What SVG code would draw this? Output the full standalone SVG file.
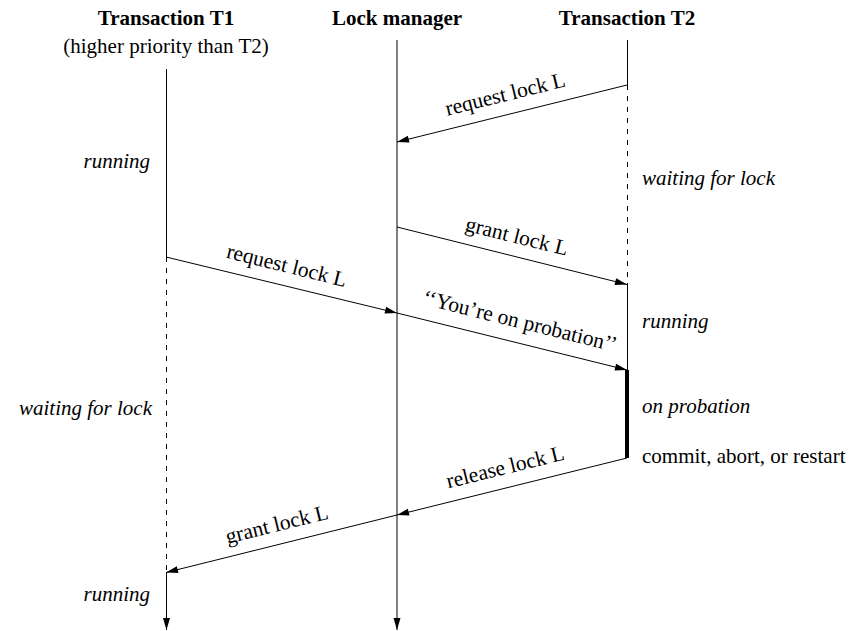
<svg xmlns="http://www.w3.org/2000/svg" width="854" height="631" viewBox="0 0 854 631">
  <style>
    text { font-family: "Liberation Serif", "Times New Roman", serif; font-size: 21px; fill: #000; }
    .head { font-weight: bold; text-anchor: middle; }
    .state { font-style: italic; }
    .lbl { font-size: 21.5px; text-anchor: middle; }
    .life { stroke: #000; stroke-width: 1; fill: none; }
    .dash { stroke-dasharray: 5 6; }
    .msg { stroke: #000; stroke-width: 1; fill: none; marker-end: url(#head); }
  </style>
  <defs>
    <marker id="head" markerUnits="userSpaceOnUse" markerWidth="12" markerHeight="7" refX="12" refY="3.5" orient="auto" overflow="visible">
      <path d="M0,0 L12,3.5 L0,7 Z" fill="#000"/>
    </marker>
  </defs>

  <rect width="854" height="631" fill="#fff"/>

  <!-- Transaction T1 -->
  <g id="t1">
    <text class="head" x="166" y="25">Transaction T1</text>
    <text x="166" y="53" text-anchor="middle">(higher priority than T2)</text>
    <line class="life" x1="166.5" y1="69" x2="166.5" y2="257"/>
    <line class="life dash" x1="166.5" y1="257" x2="166.5" y2="572"/>
    <line class="life" x1="166.5" y1="572" x2="166.5" y2="630" marker-end="url(#head)"/>
    <text class="state" x="150" y="168" text-anchor="end">running</text>
    <text class="state" x="152" y="415" text-anchor="end">waiting for lock</text>
    <text class="state" x="150" y="601" text-anchor="end">running</text>
  </g>

  <!-- Lock manager -->
  <g id="lock-manager">
    <text class="head" x="397" y="25">Lock manager</text>
    <line class="life" x1="397" y1="40" x2="397" y2="630" marker-end="url(#head)"/>
  </g>

  <!-- Transaction T2 -->
  <g id="t2">
    <text class="head" x="627" y="25">Transaction T2</text>
    <line class="life" x1="627.5" y1="40" x2="627.5" y2="85"/>
    <line class="life dash" x1="627.5" y1="85" x2="627.5" y2="284"/>
    <line class="life" x1="627.5" y1="284" x2="627.5" y2="370"/>
    <line stroke="#000" stroke-width="4" x1="627" y1="370" x2="627" y2="458"/>
    <text class="state" x="642" y="185">waiting for lock</text>
    <text class="state" x="642" y="328">running</text>
    <text class="state" x="642" y="413">on probation</text>
    <text x="642" y="463">commit, abort, or restart</text>
  </g>

  <!-- Messages -->
  <g id="connectors">
    <line class="msg" x1="627" y1="85" x2="397" y2="142"/>
    <line class="msg" x1="397" y1="227" x2="627" y2="284.5"/>
    <line class="msg" x1="166" y1="257" x2="397" y2="313"/>
    <line class="msg" x1="397" y1="313" x2="627" y2="370"/>
    <line class="msg" x1="627" y1="458" x2="397" y2="515"/>
    <line class="msg" x1="397" y1="515" x2="166" y2="572.5"/>

    <text class="lbl" transform="translate(510,113.5) rotate(-13.9)" y="-13">request lock L</text>
    <text class="lbl" transform="translate(512,255.75) rotate(13.9)" y="-13">grant lock L</text>
    <text class="lbl" transform="translate(282,285) rotate(13.9)" y="-13">request lock L</text>
    <text class="lbl" transform="translate(515,341.5) rotate(13.9)" y="-14">‘‘You’re on probation’’</text>
    <text class="lbl" transform="translate(510,486.5) rotate(-13.9)" y="-13">release lock L</text>
    <text class="lbl" transform="translate(281.5,543.75) rotate(-13.9)" y="-13">grant lock L</text>
  </g>
</svg>
